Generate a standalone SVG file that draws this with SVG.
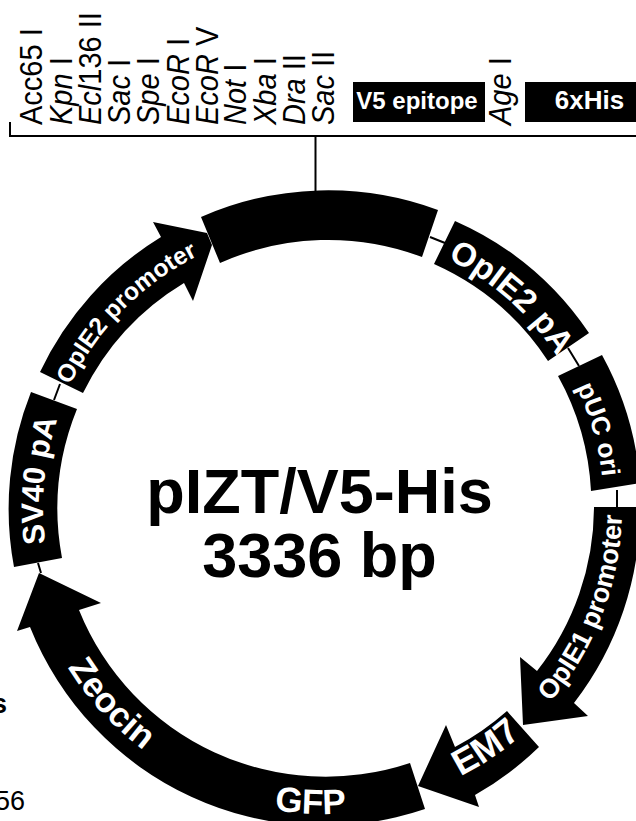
<svg xmlns="http://www.w3.org/2000/svg" width="636" height="821" viewBox="0 0 636 821">
<style>
text{font-family:"Liberation Sans",Arial,sans-serif}
.seg{fill:#000}
.l{fill:#fff;font-weight:bold;text-anchor:middle}
.c{stroke:#000;stroke-width:2;fill:none}
.site{font-size:29px;fill:#000}
.site tspan.i{font-style:italic}
.title{font-size:63px;font-weight:bold;text-anchor:middle;fill:#000}
</style>
<defs>
<path id="pOp2" d="M46.3 459A282 282 0 0 1 275 230.3"/>
<path id="pPa" d="M332 230.1A278 278 0 0 1 599.1 467.9"/>
<path id="pUc" d="M480.5 275.9A280 280 0 0 1 579.8 621.9"/>
<path id="pOp1" d="M468.5 768.6A298 298 0 0 0 605.8 411"/>
<path id="pEm" d="M292.5 807.3A301 301 0 0 0 613.4 591"/>
<path id="pGfp" d="M115.3 731.8A306 306 0 0 0 508.2 752.4"/>
<path id="pZeo" d="M22.4 523.8A302 302 0 0 0 287.2 807.7"/>
<path id="pSv" d="M92.4 667A281 281 0 0 1 127 307.6"/>
</defs>
<g id="connectors">
<path class="c" d="M10 122V136H636M315.5 136V193M430 237L445 243M568 348L579 366M617 490V507M60 384L54 400M38 563L41 573"/>
</g>
<g id="mcs">
<g transform="translate(42,125) rotate(-90) scale(1,1.06)"><text class="site">Acc65 I</text></g>
<g transform="translate(72,125) rotate(-90) scale(1,1.06)"><text class="site"><tspan class="i">Kpn</tspan> I</text></g>
<g transform="translate(101,125) rotate(-90) scale(1,1.06)"><text class="site"><tspan class="i">Ecl</tspan>136 II</text></g>
<g transform="translate(130,125) rotate(-90) scale(1,1.06)"><text class="site"><tspan class="i">Sac</tspan> I</text></g>
<g transform="translate(159,125) rotate(-90) scale(1,1.06)"><text class="site"><tspan class="i">Spe</tspan> I</text></g>
<g transform="translate(189,125) rotate(-90) scale(1,1.06)"><text class="site"><tspan class="i">EcoR</tspan> I</text></g>
<g transform="translate(218,125) rotate(-90) scale(1,1.06)"><text class="site"><tspan class="i">EcoR</tspan> V</text></g>
<g transform="translate(246,125) rotate(-90) scale(1,1.06)"><text class="site"><tspan class="i">Not</tspan> I</text></g>
<g transform="translate(276,125) rotate(-90) scale(1,1.06)"><text class="site"><tspan class="i">Xba</tspan> I</text></g>
<g transform="translate(305,125) rotate(-90) scale(1,1.06)"><text class="site"><tspan class="i">Dra</tspan> II</text></g>
<g transform="translate(334,125) rotate(-90) scale(1,1.06)"><text class="site"><tspan class="i">Sac</tspan> II</text></g>
<g transform="translate(511,125) rotate(-90) scale(1,1.06)"><text class="site"><tspan class="i">Age</tspan> I</text></g>
</g>
<g id="v5-epitope"><rect x="353" y="82" width="132" height="40"/><text class="l" x="417" y="109" font-size="24">V5 epitope</text></g>
<g id="six-his"><rect x="525" y="82" width="111" height="40"/><text class="l" x="589.5" y="109" font-size="26">6xHis</text></g>
<g id="mcs-block"><path class="seg" d="M201 217A316 316 0 0 1 438 210L422 257A266 266 0 0 0 220 263Z"/></g>
<g id="opie2-pa"><path class="seg" d="M455 221A316 316 0 0 1 589 333L548 361A266 266 0 0 0 434 264Z"/><text class="l" font-size="33"><textPath href="#pPa" startOffset="50%">OpIE2 pA</textPath></text></g>
<g id="puc-ori"><path class="seg" d="M602 355A316 316 0 0 1 640 483L591 491A266 266 0 0 0 558 376Z"/><text class="l" font-size="26"><textPath href="#pUc" startOffset="50%">pUC ori</textPath></text></g>
<g id="opie1-promoter"><path class="seg" d="M640 507A316 316 0 0 1 574 703L588 716L523 725L520 657L537 671A266 266 0 0 0 594 507Z"/><text class="l" font-size="27"><textPath href="#pOp1" startOffset="50%">OpIE1 promoter</textPath></text></g>
<g id="em7"><path class="seg" d="M507 711L539 747A318 318 0 0 1 475 795L479 807L418 786L446 725L455 747A266 266 0 0 0 507 711Z"/><text class="l" font-size="36"><textPath href="#pEm" startOffset="50%">EM7</textPath></text></g>
<g id="gfp-zeocin"><path class="seg" d="M410 763L425 809A316 316 0 0 1 30 627L17 631L39 573L101 603L79 610A266 266 0 0 0 410 763Z"/><text class="l" font-size="35"><textPath href="#pGfp" startOffset="50.5%">GFP</textPath></text><text class="l" font-size="35"><textPath href="#pZeo" startOffset="49.5%">Zeocin</textPath></text></g>
<g id="sv40-pa"><path class="seg" d="M14 567A316 316 0 0 1 31 392L77 409A266 266 0 0 0 62 558Z"/><text class="l" font-size="31"><textPath href="#pSv" startOffset="50%">SV40 pA</textPath></text></g>
<g id="opie2-promoter"><path class="seg" d="M40 372A316 316 0 0 1 161 237L153 222L207 233L212 245L193 301L184 283A266 266 0 0 0 83 393Z"/><text class="l" font-size="24.5"><textPath href="#pOp2" startOffset="49.5%">OpIE2 promoter</textPath></text></g>
<g id="title"><text class="title" x="319.5" y="513">pIZT/V5-His</text><text class="title" x="319.5" y="577">3336 bp</text></g>
<g id="fragments"><text x="7" y="713" font-size="27" font-weight="bold" text-anchor="end">s</text><text x="25" y="810" font-size="27" text-anchor="end">56</text></g>
</svg>
